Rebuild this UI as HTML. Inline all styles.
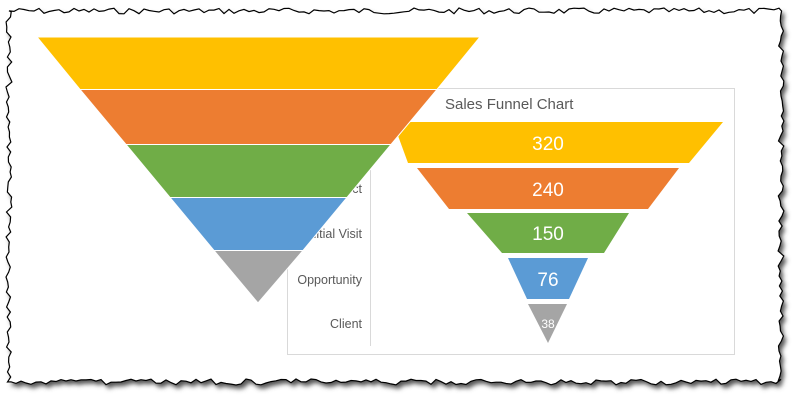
<!DOCTYPE html>
<html><head><meta charset="utf-8"><style>
html,body{margin:0;padding:0;background:#fff;}
svg{display:block;}
text{font-family:"Liberation Sans",sans-serif;}
</style></head><body>
<svg id="s" width="800" height="404" viewBox="0 0 800 404" xmlns="http://www.w3.org/2000/svg">
<defs><filter id="sh" x="-5%" y="-5%" width="110%" height="110%"><feGaussianBlur stdDeviation="2.5"/></filter></defs>
<g id="frame"><rect x="9" y="11" width="772" height="371" fill="#fff" stroke="#000" stroke-width="1.3"/></g>
<!-- chart box -->
<rect x="287.5" y="88.5" width="447" height="266" fill="#fff" stroke="#d9d9d9"/>
<text x="445" y="109" font-size="15" fill="#595959">Sales Funnel Chart</text>
<line x1="370.5" y1="170" x2="370.5" y2="346" stroke="#d9d9d9"/>
<g font-size="12.5" fill="#595959" text-anchor="end">
<text x="362" y="193">Prospect</text>
<text x="362" y="238">Initial Visit</text>
<text x="362" y="284">Opportunity</text>
<text x="362" y="328">Client</text>
</g>
<polygon points="393,122 723,122 689,163 408,163" fill="#ffc000"/>
<polygon points="417,168 679,168 648,209 449,209" fill="#ed7d31"/>
<polygon points="467,213 629,213 604,253 502,253" fill="#70ad47"/>
<polygon points="508,258 588,258 569,299 527,299" fill="#5b9bd5"/>
<polygon points="528,304 567,304 548,343" fill="#a5a5a5"/>
<g fill="#fff" text-anchor="middle" font-size="19">
<text x="548" y="150">320</text>
<text x="548" y="196">240</text>
<text x="548" y="240">150</text>
<text x="548" y="286">76</text>
<text x="548" y="328" font-size="12">38</text>
</g>
<!-- big funnel -->
<g stroke="#fff" stroke-width="1">
<polygon points="37,37 480,37 437,89.5 80,89.5" fill="#ffc000"/>
<polygon points="80,89.5 437,89.5 391,144.5 126,144.5" fill="#ed7d31"/>
<polygon points="126,144.5 391,144.5 347,197.5 170,197.5" fill="#70ad47"/>
<polygon points="170,197.5 347,197.5 303,250.5 214,250.5" fill="#5b9bd5"/>
<polygon points="214,250.5 303,250.5 258,303" fill="#a5a5a5"/>
</g>
</svg>
<script>
(function(){
var seed=7;function r(){seed=(seed*9301+49297)%233280;return seed/233280;}
var pts=[],x,y,L=9,R=781,T=11,B=382;
for(x=L;x<R;x+=5)pts.push([x,T+(r()-0.5)*6]);
for(y=T;y<B;y+=5)pts.push([R+(r()-0.5)*6,y]);
for(x=R;x>L;x-=5)pts.push([x,B+(r()-0.5)*6]);
for(y=B;y>T;y-=5)pts.push([L+(r()-0.5)*6,y]);
var d="M"+pts.map(function(p){return p[0].toFixed(1)+","+p[1].toFixed(1);}).join("L")+"Z";
var g=document.getElementById("frame");
g.innerHTML='<path d="'+d+'" transform="translate(3,4)" fill="#555" filter="url(#sh)"/><path d="'+d+'" fill="#fff" stroke="#000" stroke-width="1.2"/>';
})();
</script>
</body></html>
